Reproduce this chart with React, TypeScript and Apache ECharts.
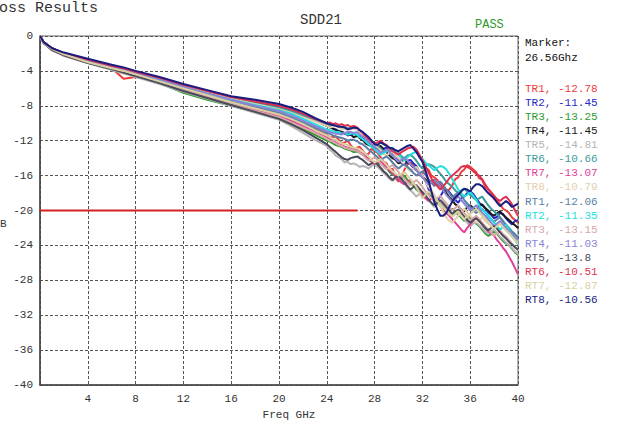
import React, { useEffect, useRef } from "react";
import * as echarts from "echarts";

// Frequency points (GHz) shared by every trace
const FREQ = [
  0, 0.3, 1, 2, 4, 6, 7, 8, 10, 12, 14, 16, 18, 20, 21, 22, 23, 24,
  24.25, 24.5, 24.75, 25, 25.25, 25.5, 25.75, 26,
  26.25, 26.56, 26.75, 27, 27.25, 27.5, 27.75, 28,
  28.25, 28.5, 28.75, 29, 29.25, 29.5, 29.75, 30,
  30.25, 30.5, 30.75, 31, 31.25, 31.5, 31.75, 32,
  32.25, 32.5, 32.75, 33, 33.25, 33.5, 33.75, 34,
  34.25, 34.5, 34.75, 35, 35.25, 35.5, 35.75, 36,
  36.25, 36.5, 36.75, 37, 37.25, 37.5, 37.75, 38,
  38.25, 38.5, 38.75, 39, 39.25, 39.5, 39.75, 40,
];

// SDD21 (dB) per trace
const TR1 = [
  0, -0.8, -1.5, -2.1, -2.9, -3.7, -4.9, -4.7, -5.2, -6.0, -6.8, -7.6, -8.3, -9.0, -9.5, -10.1, -10.7, -11.3,
  -11.6, -11.6, -11.5, -11.9, -12.3, -12.2, -12.0, -12.5,
  -12.9, -12.78, -12.7, -13.1, -13.6, -13.5, -12.9, -13.2,
  -13.4, -13.9, -14.4, -14.6, -15.4, -15.2, -16.3, -16.7,
  -16.2, -15.3, -14.7, -14.5, -14.9, -15.0, -16.0, -15.8,
  -15.1, -15.3, -16.0, -16.2, -16.5, -17.0, -17.5, -17.8,
  -17.6, -17.1, -16.4, -16.2, -15.6, -15.3, -14.8, -15.0,
  -15.3, -15.6, -16.3, -16.5, -17.3, -17.6, -18.0, -18.7,
  -18.9, -19.3, -19.8, -20.0, -20.3, -20.8, -21.1, -21.4,
];
const TR2 = [
  0, -0.7, -1.4, -2.0, -2.7, -3.4, -3.7, -4.1, -4.8, -5.6, -6.3, -7.0, -7.6, -8.2, -8.6, -9.1, -9.7, -10.3,
  -10.5, -10.6, -10.7, -10.9, -11.0, -11.1, -11.4, -11.3,
  -11.2, -11.45, -11.5, -11.7, -12.1, -12.2, -12.4, -12.7,
  -12.9, -13.2, -12.9, -12.8, -13.2, -13.5, -13.7, -14.2,
  -14.6, -14.8, -14.3, -14.2, -14.6, -14.9, -15.6, -16.0,
  -16.6, -17.5, -18.3, -19.0, -18.8, -18.4, -17.8, -17.6,
  -17.9, -18.3, -18.8, -19.1, -18.6, -18.4, -18.0, -17.8,
  -18.1, -18.6, -19.1, -19.4, -19.7, -20.2, -20.5, -20.9,
  -20.7, -20.3, -20.4, -20.9, -21.3, -21.6, -21.2, -21.1,
];
const TR3 = [
  0, -0.8, -1.6, -2.2, -3.0, -3.8, -4.2, -4.6, -5.4, -6.5, -7.3, -8.0, -8.7, -9.4, -10.0, -10.6, -11.3, -12.0,
  -12.1, -12.3, -12.5, -12.6, -12.7, -12.9, -13.0, -13.1,
  -13.3, -13.25, -13.4, -13.6, -13.9, -14.2, -14.4, -14.8,
  -14.9, -14.4, -14.9, -15.1, -15.6, -15.9, -16.0, -16.5,
  -16.4, -16.0, -16.5, -16.8, -17.1, -17.6, -17.9, -18.4,
  -18.3, -17.9, -18.2, -18.7, -19.0, -19.5, -19.8, -20.3,
  -20.1, -19.8, -20.2, -20.5, -20.8, -21.2, -21.0, -20.7,
  -21.0, -21.5, -21.8, -22.2, -22.6, -22.9, -22.7, -22.4,
  -22.7, -23.1, -23.5, -23.8, -24.0, -24.4, -24.8, -25.1,
];
const TR4 = [
  0, -0.7, -1.4, -2.0, -2.7, -3.4, -3.7, -4.1, -4.8, -5.6, -6.4, -7.1, -7.6, -8.2, -8.6, -9.1, -9.7, -10.3,
  -10.4, -10.6, -10.8, -10.9, -11.0, -11.2, -11.1, -11.3,
  -11.6, -11.45, -11.7, -11.9, -12.3, -12.5, -12.6, -13.0,
  -12.8, -12.6, -13.0, -13.3, -13.7, -14.0, -14.2, -14.6,
  -14.4, -14.1, -14.5, -14.7, -15.1, -15.4, -15.7, -16.2,
  -16.4, -16.9, -16.7, -16.5, -16.9, -17.2, -17.7, -18.0,
  -18.5, -18.8, -19.3, -19.5, -19.9, -20.1, -19.6, -19.4,
  -19.7, -19.9, -19.5, -19.3, -19.7, -20.0, -20.4, -20.6,
  -20.3, -20.1, -20.5, -20.8, -21.1, -21.4, -21.7, -22.0,
];
const TR5 = [
  0, -0.8, -1.6, -2.3, -3.1, -3.9, -4.3, -4.7, -5.5, -6.4, -7.2, -8.0, -8.8, -9.6, -10.3, -11.1, -11.9, -12.6,
  -13.0, -13.3, -13.7, -13.9, -14.1, -14.5, -14.4, -14.7,
  -14.6, -14.81, -15.0, -14.9, -15.0, -15.2, -14.9, -14.7,
  -15.0, -15.3, -15.7, -16.0, -16.4, -16.6, -16.3, -16.1,
  -16.5, -16.9, -17.4, -17.7, -18.0, -18.4, -18.1, -17.9,
  -18.3, -18.8, -19.2, -19.6, -19.3, -19.1, -19.5, -19.9,
  -20.3, -20.7, -20.4, -20.2, -20.6, -21.0, -21.4, -21.8,
  -21.5, -21.3, -21.7, -22.0, -22.4, -22.7, -22.4, -22.2,
  -22.6, -23.0, -23.3, -23.7, -24.0, -24.3, -24.7, -25.0,
];
const TR6 = [
  0, -0.7, -1.4, -2.0, -2.7, -3.4, -3.8, -4.1, -4.9, -5.7, -6.4, -7.1, -7.7, -8.2, -8.6, -9.1, -9.6, -10.1,
  -10.3, -10.2, -10.1, -10.3, -10.5, -10.4, -10.6, -10.5,
  -10.4, -10.66, -10.9, -11.2, -11.4, -11.8, -12.0, -12.4,
  -12.6, -12.9, -13.2, -13.3, -13.0, -12.8, -13.1, -13.4,
  -13.8, -14.0, -13.7, -13.6, -13.9, -14.3, -14.8, -15.2,
  -14.9, -14.7, -14.8, -15.0, -15.4, -15.8, -16.2, -16.7,
  -17.0, -17.3, -17.7, -18.0, -17.7, -17.5, -17.8, -18.2,
  -18.5, -18.8, -18.6, -18.4, -18.9, -19.4, -19.8, -20.1,
  -20.4, -20.8, -21.3, -21.6, -22.0, -22.4, -22.7, -23.1,
];
const TR7 = [
  0, -0.8, -1.6, -2.2, -3.0, -3.7, -4.1, -4.5, -5.3, -6.1, -6.9, -7.7, -8.5, -9.2, -9.7, -10.3, -10.9, -11.6,
  -11.8, -12.0, -12.2, -12.4, -12.5, -12.7, -12.8, -12.9,
  -13.0, -13.07, -13.3, -13.5, -13.8, -14.1, -14.4, -14.7,
  -14.5, -14.3, -14.7, -15.0, -15.4, -15.7, -16.1, -16.4,
  -16.8, -17.0, -16.7, -16.5, -16.9, -17.3, -17.8, -18.2,
  -18.6, -18.9, -18.6, -18.4, -18.9, -19.4, -19.8, -20.3,
  -20.6, -21.0, -21.4, -21.8, -22.2, -22.5, -22.0, -21.6,
  -21.2, -20.8, -21.2, -21.6, -22.0, -22.4, -22.6, -22.9,
  -23.4, -23.8, -24.3, -24.7, -25.3, -25.9, -26.6, -27.3,
];
const TR8 = [
  0, -0.7, -1.5, -2.0, -2.8, -3.5, -3.8, -4.2, -4.9, -5.7, -6.5, -7.2, -7.8, -8.4, -8.8, -9.3, -9.8, -10.3,
  -10.5, -10.4, -10.3, -10.5, -10.7, -10.6, -10.8, -10.7,
  -10.6, -10.79, -11.0, -11.3, -11.6, -11.9, -12.3, -12.6,
  -12.8, -13.1, -13.5, -13.7, -13.4, -13.3, -13.7, -14.0,
  -14.4, -14.8, -15.2, -15.5, -15.2, -15.0, -15.5, -16.0,
  -16.7, -17.3, -17.7, -18.2, -18.9, -19.5, -20.2, -20.8,
  -21.2, -21.4, -21.0, -20.6, -20.2, -19.8, -20.2, -20.6,
  -21.0, -21.4, -21.1, -20.8, -21.2, -21.5, -21.8, -22.0,
  -21.7, -21.4, -21.9, -22.3, -22.6, -23.0, -23.3, -23.6,
];
const RT1 = [
  0, -0.8, -1.5, -2.1, -2.9, -3.6, -3.9, -4.3, -5.1, -5.9, -6.7, -7.4, -8.1, -8.8, -9.3, -9.9, -10.5, -11.1,
  -11.2, -11.4, -11.5, -11.6, -11.7, -11.8, -12.0, -11.9,
  -11.9, -12.06, -12.3, -12.4, -12.7, -13.0, -13.3, -13.6,
  -13.9, -14.2, -14.0, -13.8, -14.1, -14.5, -14.9, -15.2,
  -14.9, -14.7, -15.0, -15.3, -15.7, -16.0, -15.8, -15.5,
  -15.9, -16.4, -16.8, -17.2, -16.9, -16.7, -17.1, -17.6,
  -18.0, -18.5, -18.2, -17.9, -18.3, -18.8, -19.2, -19.6,
  -20.0, -20.3, -20.0, -19.8, -20.2, -20.6, -21.0, -21.3,
  -21.0, -20.8, -21.2, -21.7, -22.1, -22.5, -22.8, -23.2,
];
const RT2 = [
  0, -0.8, -1.5, -2.1, -2.8, -3.5, -3.9, -4.2, -5.0, -5.8, -6.6, -7.3, -7.9, -8.5, -8.9, -9.5, -10.1, -10.7,
  -10.8, -10.9, -11.0, -11.0, -11.2, -11.1, -11.3, -11.2,
  -11.2, -11.35, -11.6, -11.8, -12.1, -12.4, -12.7, -13.0,
  -13.3, -13.6, -13.4, -13.2, -13.0, -12.9, -13.2, -13.6,
  -14.0, -14.3, -13.9, -13.6, -13.4, -13.3, -13.7, -14.1,
  -14.5, -14.8, -15.1, -15.4, -15.1, -14.9, -15.0, -15.3,
  -15.8, -16.4, -17.0, -17.6, -18.0, -18.4, -18.2, -17.9,
  -18.3, -18.8, -19.4, -19.9, -20.2, -20.6, -21.0, -21.4,
  -21.8, -22.2, -21.9, -21.6, -22.2, -22.8, -23.4, -23.9,
];
const RT3 = [
  0, -0.8, -1.6, -2.2, -3.0, -3.7, -4.1, -4.5, -5.3, -6.2, -7.0, -7.8, -8.6, -9.3, -9.9, -10.5, -11.1, -11.8,
  -12.0, -12.1, -12.3, -12.5, -12.6, -12.8, -12.9, -13.0,
  -13.1, -13.15, -13.4, -13.6, -14.0, -14.3, -14.1, -13.9,
  -14.2, -14.6, -15.0, -15.3, -15.0, -14.8, -15.2, -15.6,
  -16.0, -16.4, -16.8, -17.1, -16.8, -16.5, -16.9, -17.3,
  -17.8, -18.2, -18.6, -18.9, -18.6, -18.3, -18.8, -19.2,
  -19.6, -20.0, -19.7, -19.4, -19.9, -20.3, -20.7, -21.1,
  -20.9, -20.6, -21.0, -21.4, -21.8, -22.1, -22.5, -22.9,
  -22.6, -22.3, -22.7, -23.0, -23.4, -23.8, -24.2, -24.6,
];
const RT4 = [
  0, -0.7, -1.5, -2.1, -2.8, -3.5, -3.9, -4.3, -5.0, -5.8, -6.6, -7.3, -8.0, -8.6, -9.1, -9.7, -10.3, -10.9,
  -11.0, -11.1, -11.2, -11.2, -11.3, -11.1, -11.0, -11.0,
  -11.1, -11.03, -11.3, -11.5, -11.8, -12.1, -12.4, -12.7,
  -13.0, -13.4, -13.2, -13.0, -13.3, -13.7, -14.1, -14.4,
  -14.2, -14.0, -14.3, -14.7, -15.0, -15.4, -15.8, -16.2,
  -16.6, -17.0, -16.8, -16.5, -16.8, -17.2, -17.7, -18.2,
  -18.6, -19.0, -18.7, -18.4, -18.8, -19.2, -19.6, -20.0,
  -19.7, -19.4, -19.8, -20.3, -20.6, -21.0, -21.4, -21.8,
  -21.5, -21.2, -21.6, -22.0, -22.4, -22.7, -23.0, -23.4,
];
const RT5 = [
  0, -0.8, -1.6, -2.2, -3.1, -3.8, -4.2, -4.6, -5.4, -6.3, -7.1, -7.9, -8.7, -9.5, -10.1, -10.8, -11.6, -12.4,
  -12.7, -13.0, -13.3, -13.6, -13.9, -14.1, -14.2, -14.0,
  -13.9, -13.8, -14.0, -14.2, -14.5, -14.8, -14.6, -14.4,
  -14.7, -15.1, -15.5, -15.8, -16.2, -16.5, -16.2, -16.0,
  -16.4, -16.8, -17.2, -17.6, -17.3, -17.1, -17.5, -17.9,
  -18.3, -18.7, -19.1, -19.4, -19.1, -18.8, -19.2, -19.6,
  -20.0, -20.4, -20.1, -19.9, -20.3, -20.7, -21.1, -21.4,
  -21.1, -20.9, -21.2, -21.6, -22.0, -22.3, -22.0, -21.8,
  -22.1, -22.5, -22.9, -23.2, -23.6, -23.9, -24.2, -24.5,
];
const RT6 = [
  0, -0.7, -1.4, -2.0, -2.7, -3.4, -3.7, -4.1, -4.8, -5.6, -6.3, -7.0, -7.5, -8.0, -8.4, -8.9, -9.5, -10.0,
  -9.9, -10.1, -10.0, -10.2, -10.1, -10.3, -10.2, -10.4,
  -10.3, -10.51, -10.8, -11.1, -11.5, -11.8, -12.1, -12.3,
  -12.2, -12.0, -12.3, -12.5, -12.9, -13.2, -13.4, -13.6,
  -13.3, -13.1, -12.9, -12.8, -12.7, -13.0, -13.6, -14.2,
  -14.9, -15.6, -16.3, -16.9, -17.2, -17.6, -17.2, -16.8,
  -16.3, -16.0, -15.7, -15.4, -15.0, -14.9, -15.0, -15.2,
  -15.5, -15.8, -16.0, -16.4, -17.0, -17.5, -17.9, -18.3,
  -18.7, -18.9, -18.6, -18.4, -18.8, -19.3, -20.0, -20.6,
];
const RT7 = [
  0, -0.8, -1.5, -2.1, -3.0, -3.7, -4.0, -4.4, -5.2, -6.0, -6.8, -7.6, -8.3, -9.0, -9.5, -10.1, -10.8, -11.4,
  -11.6, -11.8, -11.9, -12.1, -12.3, -12.4, -12.5, -12.7,
  -12.8, -12.87, -13.0, -13.2, -13.5, -13.8, -14.2, -14.5,
  -14.3, -14.1, -14.4, -14.8, -15.2, -15.5, -15.8, -16.0,
  -15.8, -15.6, -16.0, -16.4, -16.9, -17.3, -18.0, -18.6,
  -18.2, -17.8, -18.1, -18.5, -18.9, -19.3, -19.7, -20.0,
  -20.4, -20.7, -20.4, -20.1, -20.6, -21.0, -20.7, -20.4,
  -20.1, -19.8, -20.2, -20.6, -21.0, -21.4, -21.8, -22.1,
  -21.8, -21.5, -21.9, -22.3, -22.6, -23.0, -23.4, -23.8,
];
const RT8 = [
  0, -0.7, -1.4, -1.9, -2.6, -3.3, -3.6, -4.0, -4.7, -5.5, -6.2, -6.9, -7.3, -7.8, -8.2, -8.7, -9.4, -10.0,
  -10.1, -10.2, -10.3, -10.4, -10.4, -10.5, -10.7, -10.6,
  -10.5, -10.56, -10.8, -11.0, -11.3, -11.6, -12.0, -12.4,
  -12.5, -12.2, -12.4, -12.6, -12.8, -12.9, -13.1, -13.2,
  -13.0, -12.8, -12.6, -12.5, -12.9, -13.3, -13.9, -14.4,
  -15.4, -16.5, -17.8, -19.0, -19.9, -20.6, -20.6, -20.3,
  -19.6, -19.0, -18.5, -18.2, -17.8, -17.5, -17.6, -17.8,
  -17.3, -17.0, -17.0, -17.2, -17.6, -18.0, -18.3, -18.6,
  -19.1, -19.5, -19.2, -18.9, -19.2, -19.6, -19.4, -19.2,
];

const TRACE_NAMES = ["TR1", "TR2", "TR3", "TR4", "TR5", "TR6", "TR7", "TR8", "RT1", "RT2", "RT3", "RT4", "RT5", "RT6", "RT7", "RT8"];
const TRACE_VALUES = [TR1, TR2, TR3, TR4, TR5, TR6, TR7, TR8, RT1, RT2, RT3, RT4, RT5, RT6, RT7, RT8];
const MARKER_VALUES = ["-12.78", "-11.45", "-13.25", "-11.45", "-14.81", "-10.66", "-13.07", "-10.79", "-12.06", "-11.35", "-13.15", "-11.03", "-13.8", "-10.51", "-12.87", "-10.56"];
const TRACE_COLORS = [
  "#ee3b3b", "#2828c8", "#2e9a2e", "#1a1a1a", "#b4b4b4", "#3c9c9c", "#e0409a", "#e4cfae",
  "#5a7fa8", "#22e0e0", "#d8a8a8", "#8a84d4", "#4a4a5a", "#e0304e", "#d8d0a0", "#1c1c80",
];

const MARKER_FREQ = "26.56Ghz";
const LIMIT_X = [0, 26.56];
const LIMIT_Y = -20;

const MONO = '"Liberation Mono", "DejaVu Sans Mono", monospace';

export default function App() {
  const ref = useRef<HTMLDivElement>(null);

  useEffect(() => {
    if (!ref.current) return;
    const chart = echarts.init(ref.current, null, { renderer: "svg" });

    const series: any[] = TRACE_NAMES.map((name, i) => ({
      name,
      type: "line",
      showSymbol: false,
      symbol: "none",
      data: FREQ.map((f, k) => [f, TRACE_VALUES[i][k]]),
      lineStyle: { color: TRACE_COLORS[i], width: 2 },
      itemStyle: { color: TRACE_COLORS[i] },
      z: 3 + i,
    }));
    series.push({
      name: "Limit",
      type: "line",
      showSymbol: false,
      symbol: "none",
      data: LIMIT_X.map((x) => [x, LIMIT_Y]),
      lineStyle: { color: "#d42020", width: 2 },
      z: 30,
    });

    const graphics: any[] = [
      { type: "text", x: -1, y: 8, style: { text: "oss Results", fill: "#333", font: `15px ${MONO}`, verticalAlign: "middle" } },
      { type: "text", x: 321, y: 20, style: { text: "SDD21", fill: "#333", font: `14px ${MONO}`, align: "center", verticalAlign: "middle" } },
      { type: "text", x: 475, y: 25, style: { text: "PASS", fill: "#2e9a2e", font: `12px ${MONO}`, verticalAlign: "middle" } },
      { type: "text", x: 525, y: 43, style: { text: "Marker:", fill: "#111", font: `11px ${MONO}`, verticalAlign: "middle" } },
      { type: "text", x: 525, y: 58, style: { text: MARKER_FREQ, fill: "#111", font: `11px ${MONO}`, verticalAlign: "middle" } },
      { type: "text", x: 0, y: 224, style: { text: "B", fill: "#333", font: `11px ${MONO}`, verticalAlign: "middle" } },
      { type: "text", x: 289, y: 415, style: { text: "Freq GHz", fill: "#333", font: `11px ${MONO}`, align: "center", verticalAlign: "middle" } },
    ];
    TRACE_NAMES.forEach((name, i) => {
      graphics.push({
        type: "text",
        x: 525,
        y: 89 + i * 14.07,
        style: { text: `${name}, ${MARKER_VALUES[i]}`, fill: TRACE_COLORS[i], font: `11px ${MONO}`, verticalAlign: "middle" },
      });
    });

    chart.setOption({
      animation: false,
      backgroundColor: "#fff",
      grid: { left: 40, right: 108, top: 36, bottom: 42, containLabel: false, show: true, borderColor: "#666", borderWidth: 1 },
      xAxis: {
        type: "value",
        min: 0,
        max: 40,
        interval: 4,
        axisLine: { show: true, onZero: false, lineStyle: { color: "#444", width: 1.5 } },
        axisTick: { show: false },
        axisLabel: {
          color: "#333",
          fontFamily: MONO,
          fontSize: 11,
          margin: 8,
          formatter: (v: number) => (v === 0 ? "" : String(v)),
        },
        splitLine: { show: true, lineStyle: { color: "#555", type: [3, 2], width: 1 } },
      },
      yAxis: {
        type: "value",
        min: -40,
        max: 0,
        interval: 4,
        axisLine: { show: true, onZero: false, lineStyle: { color: "#444", width: 1.5 } },
        axisTick: { show: false },
        axisLabel: { color: "#333", fontFamily: MONO, fontSize: 11, margin: 7 },
        splitLine: { show: true, lineStyle: { color: "#555", type: [3, 2], width: 1 } },
      },
      series,
      graphic: graphics,
    });

    return () => chart.dispose();
  }, []);

  return <div ref={ref} style={{ position: "fixed", left: 0, top: 0, width: 626, height: 427 }} />;
}
